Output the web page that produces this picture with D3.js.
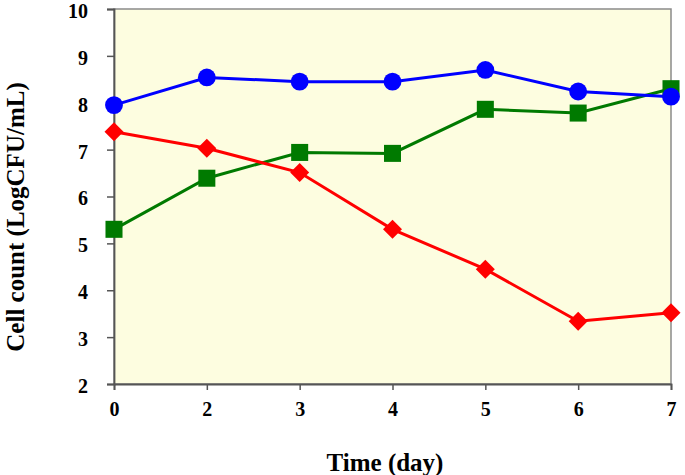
<!DOCTYPE html>
<html><head><meta charset="utf-8">
<script src="https://cdn.jsdelivr.net/npm/d3@7"></script>
<style>body{margin:0;background:#fff}svg{display:block}</style>
</head><body>
<svg id="c" width="685" height="475"></svg>
<script>
const days = ["0","2","3","4","5","6","7"];
const blueSeries = [7.95, 8.54, 8.45, 8.45, 8.70, 8.24, 8.13];
const greenSeries = [5.30, 6.39, 6.94, 6.92, 7.86, 7.78, 8.30];
const redSeries = [7.38, 7.03, 6.51, 5.30, 4.45, 3.34, 3.52];
const yTicks = [2,3,4,5,6,7,8,9,10];
const xTitle = "Time (day)";
const yTitle = "Cell count (LogCFU/mL)";

const svg = d3.select("#c");
const L = 114, R = 671, T = 9, B = 384;
const x = d3.scalePoint().domain(days).range([L, R]).padding(0);
const y = d3.scaleLinear().domain([2, 10]).range([B, T]);
const font = "'Liberation Serif','Times New Roman',serif";

svg.append("rect").attr("x", L).attr("y", T).attr("width", R - L).attr("height", B - T)
  .attr("fill", "#fdfde0").attr("stroke", "#8a8a8a").attr("stroke-width", 1.5);

const yAxis = svg.append("g").attr("transform", `translate(${L},0)`)
  .call(d3.axisLeft(y).tickValues(yTicks).tickSize(7).tickPadding(19).tickFormat(d3.format("d")));
const xAxis = svg.append("g").attr("transform", `translate(0,${B})`)
  .call(d3.axisBottom(x).tickSize(6).tickPadding(12));
[yAxis, xAxis].forEach(g => {
  g.selectAll("path").attr("stroke", "#555").attr("stroke-width", 1.8);
  g.selectAll("line").attr("stroke", "#555").attr("stroke-width", 1.5);
  g.selectAll("text").attr("font-family", font).attr("font-weight", "bold")
    .attr("font-size", 20).attr("fill", "#000");
});
yAxis.selectAll("text").attr("dy", "0.42em");

svg.append("text").attr("x", 385).attr("y", 471).attr("text-anchor", "middle")
  .attr("font-family", font).attr("font-weight", "bold").attr("font-size", 25).text(xTitle);
svg.append("text").attr("transform", "translate(24,217) rotate(-90)").attr("text-anchor", "middle")
  .attr("font-family", font).attr("font-weight", "bold").attr("font-size", 25).text(yTitle);

const line = d3.line().x((d, i) => x(days[i])).y(d => y(d));
const series = [
  {vals: greenSeries, color: "#007a00", sym: d3.symbolSquare, size: 290},
  {vals: redSeries, color: "#ff0000", sym: d3.symbolDiamond2, size: 230},
  {vals: blueSeries, color: "#0000ff", sym: d3.symbolCircle, size: 250}
];
series.forEach(s => {
  svg.append("path").datum(s.vals).attr("d", line).attr("fill", "none")
    .attr("stroke", s.color).attr("stroke-width", 3);
});
series.forEach(s => {
  svg.append("g").selectAll("path").data(s.vals).join("path")
    .attr("transform", (d, i) => `translate(${x(days[i])},${y(d)})`)
    .attr("d", d3.symbol().type(s.sym).size(s.size)).attr("fill", s.color);
});
</script>
</body></html>
